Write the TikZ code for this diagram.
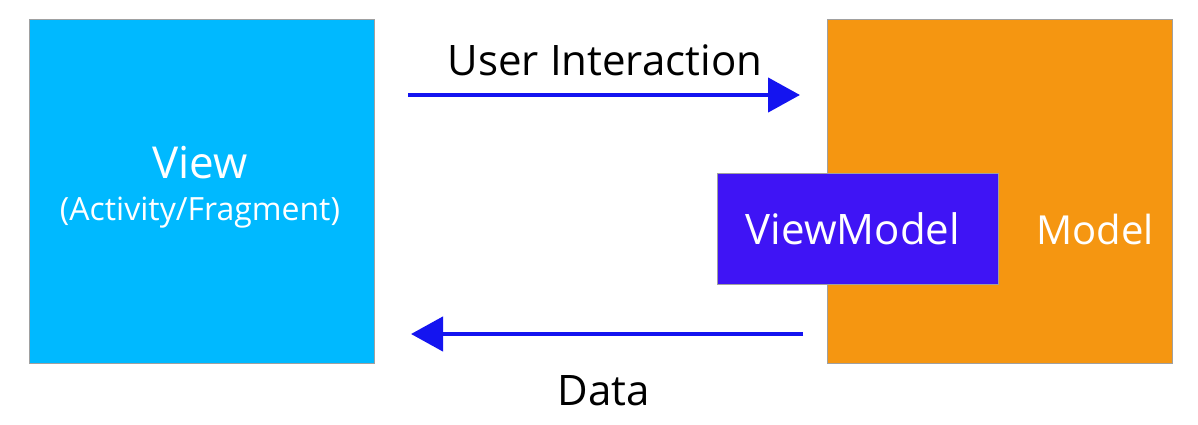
\documentclass[tikz,border=0pt]{standalone}
\usepackage{fontspec}
\setmainfont{Open Sans}
\usetikzlibrary{arrows.meta}
\definecolor{viewblue}{RGB}{0,185,255}
\definecolor{modelorange}{RGB}{245,150,17}
\definecolor{vmviolet}{RGB}{63,20,245}
\definecolor{arrowblue}{RGB}{20,20,240}
\definecolor{edgegray}{RGB}{160,160,160}
\tikzset{
  box/.style={draw=edgegray, line width=1pt, inner sep=0pt, outer sep=0pt},
  flow/.style={draw=arrowblue, line width=4.5pt, -{Triangle[length=32pt,width=34pt]}},
  lbl/.style={font=\fontsize{42}{50}\selectfont, inner sep=0pt},
}
\begin{document}
\begin{tikzpicture}[x=1pt,y=-1pt]
\useasboundingbox[fill=white] (0,0) rectangle (1198,424);
\node[box, fill=viewblue, minimum width=345pt, minimum height=344pt] (view) at (201.5,191) {};
\node[box, fill=modelorange, minimum width=345pt, minimum height=344pt] (model) at (999.5,191) {};
\node[box, fill=vmviolet, minimum width=281pt, minimum height=111pt] (vm) at (857.5,228.5) {};
\node[lbl, text=white, anchor=base, font=\fontsize{44}{52}\selectfont] (viewt) at (200,178) {View};
\node[text=white, anchor=base, inner sep=0pt, font=\fontsize{32}{38}\selectfont] (viewsub) at (200,220) {(Activity/Fragment)};
\node[lbl, text=white, anchor=base] (vmt) at (853,244) {ViewModel};
\node[lbl, text=white, anchor=base, font=\fontsize{40}{48}\selectfont] (modelt) at (1095,244) {Model};
\coordinate (a1s) at (408,95);
\coordinate (a1e) at (800,95);
\coordinate (a2s) at (803,334);
\coordinate (a2e) at (411,334);
\draw[flow] (a1s) -- (a1e);
\draw[flow] (a2s) -- (a2e);
\node[lbl, anchor=base] (ui) at (605,75) {User Interaction};
\node[lbl, anchor=base] (data) at (604,405) {Data};
\end{tikzpicture}
\end{document}
